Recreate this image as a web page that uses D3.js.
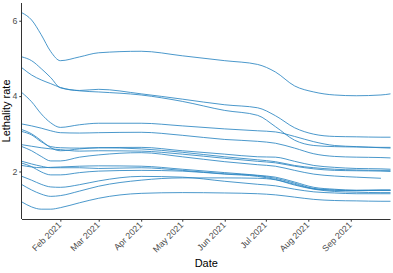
<!DOCTYPE html>
<html>
<head>
<meta charset="utf-8">
<script src="https://cdn.jsdelivr.net/npm/d3@7"></script>
<style>
  body { margin: 0; background: #fff; }
  svg { display: block; font-family: "Liberation Sans", Arial, sans-serif; }
  .tick text { fill: #4d4d4d; font-size: 8.8px; }
  .axis path, .axis line { stroke: #333; }
</style>
</head>
<body>
<div id="chart"></div>
<script>
// sample dates (rolling lethality rate, 2021)
var dates = ["2021-01-04", "2021-01-11", "2021-01-18", "2021-01-25", "2021-02-01",
  "2021-02-15", "2021-03-01", "2021-04-01", "2021-05-01", "2021-06-01",
  "2021-06-25", "2021-07-08", "2021-07-22", "2021-08-05", "2021-08-20",
  "2021-09-05", "2021-09-23", "2021-09-30"];

var tickDates = ["2021-02-01", "2021-03-01", "2021-04-01", "2021-05-01",
  "2021-06-01", "2021-07-01", "2021-08-01", "2021-09-01"];
var yTicks = [2, 4, 6];

// one array per region
var regionA = [6.21, 6.02, 5.63, 5.18, 4.94, 5.04, 5.15, 5.19, 5.07, 4.94, 4.84, 4.64, 4.27, 4.11, 4.03, 4.01, 4.03, 4.06];
var regionB = [5.04, 4.94, 4.73, 4.49, 4.22, 4.15, 4.18, 4.06, 3.92, 3.77, 3.69, 3.48, 3.16, 2.99, 2.93, 2.92, 2.91, 2.91];
var regionC = [4.75, 4.56, 4.43, 4.33, 4.23, 4.14, 4.11, 4.03, 3.86, 3.62, 3.49, 3.19, 2.83, 2.69, 2.66, 2.65, 2.64, 2.64];
var regionD = [4.09, 3.85, 3.53, 3.29, 3.17, 3.24, 3.28, 3.28, 3.21, 3.13, 3.08, 3.05, 2.93, 2.79, 2.69, 2.66, 2.63, 2.62];
var regionE = [3.26, 3.21, 3.15, 3.08, 3.03, 3.02, 3.03, 3.04, 2.96, 2.85, 2.80, 2.75, 2.62, 2.47, 2.40, 2.38, 2.37, 2.36];
var regionF = [3.11, 3.00, 2.82, 2.63, 2.55, 2.60, 2.63, 2.64, 2.55, 2.46, 2.39, 2.38, 2.27, 2.16, 2.11, 2.08, 2.07, 2.06];
var regionG = [3.06, 2.97, 2.79, 2.66, 2.63, 2.62, 2.63, 2.60, 2.51, 2.39, 2.31, 2.26, 2.16, 2.10, 2.06, 2.04, 2.03, 2.03];
var regionH = [2.71, 2.67, 2.63, 2.60, 2.58, 2.54, 2.55, 2.54, 2.46, 2.35, 2.27, 2.23, 2.14, 2.07, 2.03, 2.02, 2.01, 2.00];
var regionI = [2.66, 2.55, 2.40, 2.28, 2.28, 2.38, 2.44, 2.50, 2.39, 2.26, 2.18, 2.14, 2.03, 1.93, 1.88, 1.85, 1.82, null];
var regionJ = [2.27, 2.20, 2.14, 2.10, 2.10, 2.10, 2.08, 2.10, 2.03, 1.94, 1.89, 1.82, 1.69, 1.55, 1.51, 1.50, 1.51, 1.51];
var regionK = [2.22, 2.13, 1.99, 1.91, 1.91, 1.97, 2.01, 2.03, 2.01, 1.93, 1.87, 1.79, 1.66, 1.54, 1.50, 1.49, 1.50, 1.50];
var regionL = [2.16, 2.12, 2.10, 2.11, 2.12, 2.14, 2.15, 2.14, 2.06, 1.97, 1.90, 1.85, 1.72, 1.58, 1.53, 1.50, 1.50, 1.50];
var regionM = [1.87, 1.77, 1.66, 1.59, 1.58, 1.65, 1.75, 1.87, 1.85, 1.74, 1.66, 1.62, 1.53, 1.46, 1.43, 1.41, 1.41, 1.41];
var regionN = [1.65, 1.51, 1.40, 1.34, 1.36, 1.48, 1.61, 1.77, 1.83, 1.83, 1.82, 1.78, 1.64, 1.53, 1.47, 1.45, 1.44, 1.44];
var regionO = [1.19, 1.06, 1.00, 1.00, 1.04, 1.17, 1.29, 1.42, 1.44, 1.43, 1.41, 1.38, 1.32, 1.26, 1.23, 1.22, 1.21, 1.21];

var series = [regionA, regionB, regionC, regionD, regionE, regionF, regionG, regionH,
  regionI, regionJ, regionK, regionL, regionM, regionN, regionO];

var W = 393, H = 273;
var margin = { top: 3, right: 2.5, bottom: 54, left: 22 };
var width = W - margin.left - margin.right,
  height = H - margin.top - margin.bottom;

var parse = d3.timeParse("%Y-%m-%d");
var xDates = dates.map(parse);

var x = d3.scaleTime()
  .domain([xDates[0], xDates[xDates.length - 1]])
  .range([0, width]);

// ggplot-like 5% expansion on y
var allVals = [].concat.apply([], series).filter(function (v) { return v != null; });
var ext = d3.extent(allVals);
var pad = (ext[1] - ext[0]) * 0.05;
var y = d3.scaleLinear().domain([ext[0] - pad, ext[1] + pad]).range([height, 0]);

var svg = d3.select("#chart").append("svg")
  .attr("width", W).attr("height", H);

var g = svg.append("g")
  .attr("transform", "translate(" + margin.left + "," + margin.top + ")");

var line = d3.line()
  .defined(function (d) { return d.v != null; })
  .x(function (d) { return x(d.date); })
  .y(function (d) { return y(d.v); })
  .curve(d3.curveMonotoneX);

g.selectAll(".region")
  .data(series)
  .enter()
  .append("path")
  .attr("class", "region")
  .attr("fill", "none")
  .attr("stroke", "#2b86c2")
  .attr("stroke-opacity", 0.85)
  .attr("stroke-width", 1)
  .attr("d", function (vals) {
    return line(vals.map(function (v, i) { return { date: xDates[i], v: v }; }));
  });

// axes
var xAxis = d3.axisBottom(x)
  .tickValues(tickDates.map(parse))
  .tickFormat(d3.timeFormat("%b %Y"))
  .tickSize(2.7).tickPadding(2);

var yAxis = d3.axisLeft(y)
  .tickValues(yTicks)
  .tickFormat(d3.format("d"))
  .tickSize(2.7).tickPadding(2);

var gx = g.append("g")
  .attr("class", "axis")
  .attr("transform", "translate(0," + height + ")")
  .call(xAxis);
gx.select(".domain").attr("d", "M0,0.5H" + width);
gx.selectAll(".tick text")
  .attr("text-anchor", "end")
  .attr("dy", "0.3em")
  .attr("transform", "translate(0,4) rotate(-45)")
  .attr("x", -1).attr("y", 0);

var gy = g.append("g").attr("class", "axis").call(yAxis);
gy.select(".domain").attr("d", "M-0.5," + height + "V0");

// axis titles
svg.append("text")
  .attr("x", margin.left + width / 2)
  .attr("y", H - 6)
  .attr("text-anchor", "middle")
  .style("font-size", "11px")
  .attr("fill", "#000")
  .text("Date");

svg.append("text")
  .attr("transform", "translate(10," + (margin.top + height / 2) + ") rotate(-90)")
  .attr("text-anchor", "middle")
  .style("font-size", "11px")
  .attr("fill", "#000")
  .text("Lethality rate");
</script>
</body>
</html>
